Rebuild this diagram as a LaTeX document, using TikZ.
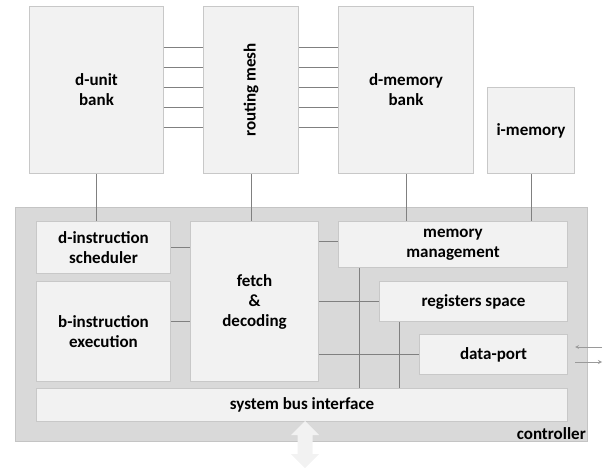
\documentclass[tikz,border=0pt]{standalone}
\usepackage{fontspec}
\setmainfont{Carlito}
\definecolor{boxfill}{HTML}{F2F2F2}
\definecolor{boxline}{HTML}{C8C8C8}
\definecolor{ctrlfill}{HTML}{D9D9D9}
\definecolor{ctrlline}{HTML}{C4C4C4}
\definecolor{wireline}{HTML}{808080}
\definecolor{portline}{HTML}{9A9A9A}
\begin{document}
\begin{tikzpicture}[x=1pt, y=-1pt, >=stealth,
    box/.style={draw=boxline, fill=boxfill, line width=1pt, anchor=north west,
      inner sep=0pt, align=center, font=\fontsize{17}{20}\selectfont\bfseries},
    wire/.style={draw=wireline, line width=0.8pt}]
  \useasboundingbox (0,0) rectangle (607,468);
  % upper banks
  \node [box, minimum width=134pt, minimum height=167pt] (dunit) at (29,6) {d-unit\\bank};
  \node [box, minimum width=95pt, minimum height=167pt] (mesh) at (203,6) {};
  \node [rotate=90, font=\fontsize{17}{20}\selectfont\bfseries] (meshtext) at (mesh) {routing mesh};
  \node [box, minimum width=135pt, minimum height=167pt] (dmem) at (338,6) {d-memory\\bank};
  \node [box, minimum width=87pt, minimum height=86pt] (imem) at (487,87) {i-memory};
  \foreach \y in {47,67,...,127} {
    \draw [wire] (dunit.east |- 0,\y) -- (mesh.west |- 0,\y);
    \draw [wire] (mesh.east |- 0,\y) -- (dmem.west |- 0,\y);
  }
  % controller
  \node [box, draw=ctrlline, fill=ctrlfill, minimum width=572pt, minimum height=234pt] (ctrl) at (15,207) {};
  \node [anchor=south east, inner sep=2pt, font=\fontsize{17}{20}\selectfont\bfseries] (ctrltext) at (ctrl.south east) {controller};
  \node [box, minimum width=134pt, minimum height=52pt] (sched) at (36,221) {d-instruction\\scheduler};
  \node [box, minimum width=134pt, minimum height=100pt] (bexec) at (36,281) {b-instruction\\execution};
  \node [box, minimum width=128pt, minimum height=160pt] (fetch) at (190,221) {fetch\\\&\\decoding};
  \node [box, minimum width=229pt, minimum height=46pt] (mem) at (338,221) {memory\\management};
  \node [box, minimum width=188pt, minimum height=40pt] (regs) at (379,281) {registers space};
  \node [box, minimum width=148pt, minimum height=40pt] (dport) at (419,334) {data-port};
  \node [box, minimum width=531pt, minimum height=33pt] (bus) at (36,388) {system bus interface};
  % links down into the controller
  \draw [wire] (dunit.south) -- (dunit.south |- sched.north);
  \draw [wire] (mesh.south) -- (mesh.south |- fetch.north);
  \draw [wire] (dmem.south) -- (dmem.south |- mem.north);
  \draw [wire] (imem.south) -- (imem.south |- mem.north);
  % links inside
  \draw [wire] (sched.east) -- (sched.east -| fetch.west);
  \draw [wire] (bexec.east |- 0,321) -- (fetch.west |- 0,321);
  \draw [wire] (fetch.east |- 0,241) -- (mem.west |- 0,241);
  \draw [wire] (regs.west) -- (regs.west -| fetch.east);
  \draw [wire] (dport.west) -- (dport.west -| fetch.east);
  \draw [wire] (mem.south -| 359,0) -- (bus.north -| 359,0);
  \draw [wire] (regs.south -| 399,0) -- (bus.north -| 399,0);
  % data-port io
  \coordinate (inA) at (602,347);
  \coordinate (inB) at (575,347);
  \coordinate (outA) at (575,362);
  \coordinate (outB) at (602,362);
  \draw [->, draw=portline, line width=0.8pt] (inA) -- (inB);
  \draw [->, draw=portline, line width=0.8pt] (outA) -- (outB);
  % system bus arrow
  \fill [boxfill] (305,421) -- (319,435) -- (312.5,435) -- (312.5,454) -- (319,454)
    -- (305,468) -- (291,454) -- (297.5,454) -- (297.5,435) -- (291,435) -- cycle;
\end{tikzpicture}
\end{document}
